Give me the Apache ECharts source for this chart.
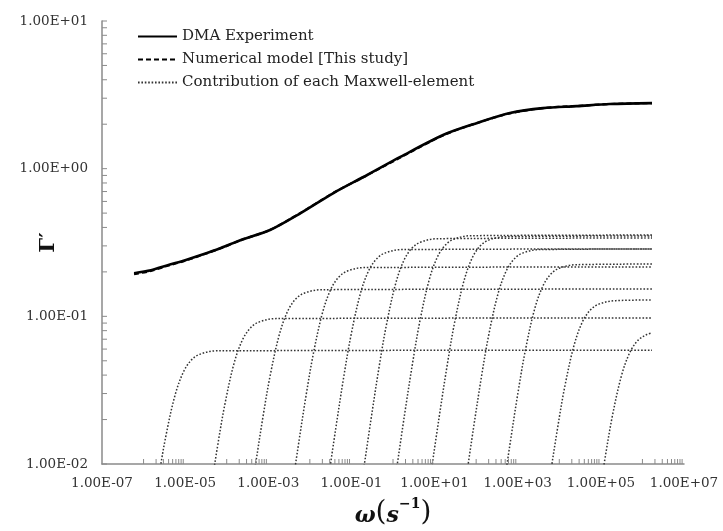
<!DOCTYPE html>
<html>
<head>
<meta charset="utf-8">
<script src="https://cdn.jsdelivr.net/npm/echarts@6/dist/echarts.min.js"></script>
<style>html,body{margin:0;padding:0;background:#fff}#c{width:723px;height:531px}</style>
</head>
<body>
<div id="c"></div>
<script>
// ---- DATA ----
const dmaExperiment = [
  [5.9e-7,0.196],[1.5e-6,0.205],[3.8e-6,0.222],[1.0e-5,0.240],[2.4e-5,0.260],[7.2e-5,0.290],
  [2.2e-4,0.329],[1.1e-3,0.384],[6.0e-3,0.500],[3.7e-2,0.684],[0.24,0.906],[1.5,1.20],
  [16,1.69],[106,2.04],[650,2.38],[4050,2.57],[26500,2.65],[1.64e5,2.74],[1.7e6,2.78]
];
const numericalModel = [
  [5.9e-7,0.193],[1.5e-6,0.203],[3.8e-6,0.220],[1.0e-5,0.238],[2.4e-5,0.259],[7.2e-5,0.289],
  [2.2e-4,0.328],[1.1e-3,0.385],[6.0e-3,0.502],[3.7e-2,0.686],[0.24,0.904],[1.5,1.19],
  [16,1.68],[106,2.04],[650,2.37],[4050,2.57],[26500,2.66],[1.64e5,2.74],[1.7e6,2.78]
];
const maxwell1  = [[8.66e-7,0.0013],[1.44e-6,0.00347],[2.31e-6,0.00814],[3.46e-6,0.0156],[5.77e-6,0.0295],[9.23e-6,0.0424],[1.44e-5,0.0509],[2.31e-5,0.0555],[5.77e-5,0.0584],[1.7e6,0.059]];
const maxwell2  = [[2.29e-5,0.00215],[3.81e-5,0.00573],[6.10e-5,0.0135],[9.14e-5,0.0258],[1.524e-4,0.0488],[2.44e-4,0.0701],[3.81e-4,0.0840],[6.10e-4,0.0917],[1.524e-3,0.0965],[1.7e6,0.0975]];
const maxwell3  = [[2.81e-4,0.00337],[4.69e-4,0.0090],[7.50e-4,0.0211],[1.125e-3,0.0405],[1.875e-3,0.0765],[3.00e-3,0.110],[4.69e-3,0.132],[7.50e-3,0.144],[1.875e-2,0.1515],[1.7e6,0.153]];
const maxwell4  = [[3.08e-3,0.00475],[5.14e-3,0.0127],[8.22e-3,0.0298],[1.234e-2,0.0572],[2.056e-2,0.108],[3.29e-2,0.1553],[5.14e-2,0.1862],[8.22e-2,0.2033],[0.2056,0.2138],[1.7e6,0.216]];
const maxwell5  = [[0.0247,0.0063],[0.0412,0.0168],[0.0659,0.0395],[0.0989,0.0758],[0.1648,0.143],[0.2637,0.2056],[0.412,0.2465],[0.659,0.2691],[1.648,0.2831],[1.7e6,0.286]];
const maxwell6  = [[0.1767,0.00746],[0.2945,0.0199],[0.471,0.0468],[0.707,0.0898],[1.178,0.1695],[1.885,0.2437],[2.945,0.2922],[4.71,0.319],[11.78,0.3356],[1.7e6,0.339]];
const maxwell7  = [[1.119,0.0078],[1.865,0.0209],[2.984,0.0490],[4.476,0.0941],[7.46,0.1775],[11.94,0.2552],[18.65,0.306],[29.84,0.334],[74.6,0.3515],[1.7e6,0.355]];
const maxwell8  = [[7.70,0.0077],[12.83,0.0206],[20.52,0.0483],[30.78,0.0928],[51.3,0.175],[82.1,0.2517],[128.3,0.3017],[205.2,0.3294],[513,0.3465],[1.7e6,0.35]];
const maxwell9  = [[50.7,0.0063],[84.5,0.0168],[135.2,0.0395],[202.8,0.0758],[338,0.143],[540.8,0.2056],[845,0.2465],[1352,0.2691],[3380,0.2831],[1.7e6,0.286]];
const maxwell10 = [[386,0.00497],[644,0.0133],[1030,0.0312],[1546,0.0599],[2576,0.113],[4122,0.1625],[6440,0.1948],[10300,0.2127],[25760,0.2237],[1.7e6,0.226]];
const maxwell11 = [[3444,0.00284],[5740,0.00759],[9184,0.0178],[13780,0.0342],[22960,0.0645],[36740,0.0928],[57400,0.1112],[91840,0.1214],[229600,0.1277],[1.7e6,0.129]];
const maxwell12 = [[47430,0.00176],[79050,0.0047],[126500,0.011],[189700,0.0212],[316200,0.040],[505900,0.0575],[790500,0.069],[1264800,0.0753],[1.7e6,0.0773]];
const maxwellCurves = [maxwell1,maxwell2,maxwell3,maxwell4,maxwell5,maxwell6,maxwell7,maxwell8,maxwell9,maxwell10,maxwell11,maxwell12];

// tick decades for minor ticks (Excel-style)
const xMinorDecades = [-6,-4,-2,0,2,4,6];
const yMinorDecades = [-2,-1,0];
const seriesNames = ['DMA Experiment','Numerical model [This study]','Contribution of each Maxwell-element'];

// ---- build ----
const xTicks = [];
xMinorDecades.forEach(d => { for (let k = 1; k <= 9; k++) xTicks.push([k*Math.pow(10,d), 0.01]); });
const yTicks = [];
yMinorDecades.forEach(d => { for (let k = 1; k <= 9; k++) yTicks.push([1e-7, k*Math.pow(10,d)]); });
yTicks.push([1e-7, 10]);

function sci(v){
  const e = Math.round(Math.log10(v));
  const m = v/Math.pow(10,e);
  return m.toFixed(2)+'E'+(e<0?'-':'+')+String(Math.abs(e)).padStart(2,'0');
}
const FONT = 'DejaVu Serif';
const axisCol = '#8a8a8a';
const labelCol = '#333';

const series = [];
maxwellCurves.forEach(c => series.push({
  name: seriesNames[2], type:'line', data:c, showSymbol:false, symbol:'none', smooth:0.35, clip:true,
  itemStyle:{color:'#333'},
  lineStyle:{color:'#333', width:1.5, type:[1.6,1.8]}, z:2
}));
series.push({
  name: seriesNames[1], type:'line', data:numericalModel, symbol:'none', smooth:0.3, clip:true,
  itemStyle:{color:'#000'},
  lineStyle:{color:'#000', width:2.2, type:[5,3]}, z:3
});
series.push({
  name: seriesNames[0], type:'line', data:dmaExperiment, symbol:'none', smooth:0.3, clip:true,
  itemStyle:{color:'#000'},
  lineStyle:{color:'#000', width:2.6}, z:4
});
series.push({
  type:'custom', data:xTicks, silent:true, z:5,
  renderItem:(p, api) => {
    const pt = api.coord([api.value(0), api.value(1)]);
    return {type:'line', shape:{x1:pt[0],y1:pt[1],x2:pt[0],y2:pt[1]-5}, style:{stroke:axisCol, lineWidth:1}};
  }
});
series.push({
  type:'custom', data:yTicks, silent:true, z:5,
  renderItem:(p, api) => {
    const pt = api.coord([api.value(0), api.value(1)]);
    return {type:'line', shape:{x1:pt[0],y1:pt[1],x2:pt[0]+5,y2:pt[1]}, style:{stroke:axisCol, lineWidth:1}};
  }
});

const chart = echarts.init(document.getElementById('c'), null, {renderer:'canvas'});
chart.setOption({
  animation:false,
  backgroundColor:'#fff',
  grid:{left:102, right:39, top:21, bottom:67, containLabel:false, outerBoundsMode:'none'},
  legend:{
    data:seriesNames, orient:'vertical', left:132, top:24, itemWidth:39, itemHeight:14, itemGap:8,
    itemStyle:{opacity:0},
    textStyle:{fontFamily:FONT, fontSize:15, color:'#222'}, selectedMode:false
  },
  xAxis:{
    type:'log', logBase:10, min:1e-7, max:1e7, interval:1, splitNumber:14,
    axisLine:{show:true, lineStyle:{color:axisCol, width:1.5}},
    axisTick:{show:false}, splitLine:{show:false}, minorTick:{show:false},
    axisLabel:{fontFamily:FONT, fontSize:13.5, color:labelCol, margin:12, hideOverlap:false,
      formatter:v => { const e = Math.round(Math.log10(v)); return Math.abs(e)%2===1 ? sci(v) : ''; }},
    name:'{w|ω}{p|(}{s|s}{sup|−1}{p|)}', nameLocation:'middle', nameGap:33, nameMoveOverlap:false,
    nameTextStyle:{rich:{
      w:{fontFamily:FONT, fontWeight:'bold', fontStyle:'italic', fontSize:22, color:'#111', verticalAlign:'bottom', lineHeight:30},
      s:{fontFamily:FONT, fontWeight:'bold', fontStyle:'italic', fontSize:22, color:'#111', verticalAlign:'bottom', lineHeight:30},
      p:{fontFamily:FONT, fontSize:28, color:'#111', verticalAlign:'bottom', lineHeight:30},
      sup:{fontFamily:FONT, fontWeight:'bold', fontSize:14, color:'#111', verticalAlign:'top', lineHeight:30}
    }}
  },
  yAxis:{
    type:'log', logBase:10, min:0.01, max:10, interval:1, splitNumber:3,
    axisLine:{show:true, lineStyle:{color:axisCol, width:1.5}},
    axisTick:{show:false}, splitLine:{show:false}, minorTick:{show:false},
    axisLabel:{fontFamily:FONT, fontSize:13.5, color:labelCol, margin:14, formatter:v => sci(v)},
    name:'Γ′', nameLocation:'middle', nameRotate:90, nameGap:43, nameMoveOverlap:false,
    nameTextStyle:{fontFamily:FONT, fontWeight:'bold', fontSize:21, color:'#111'}
  },
  series:series
});
</script>
</body>
</html>
